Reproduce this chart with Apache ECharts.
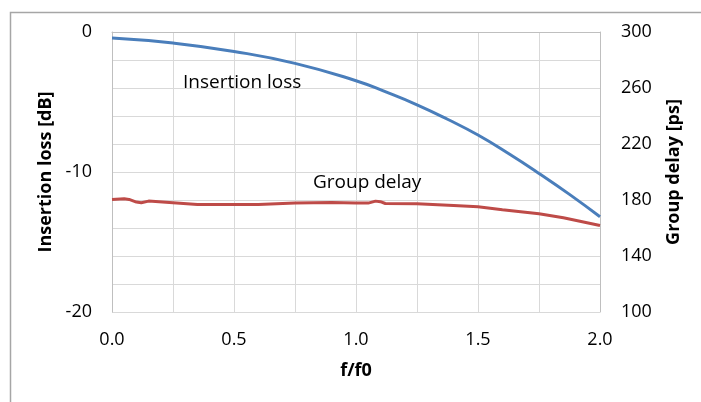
<!DOCTYPE html>
<html>
<head>
<meta charset="utf-8">
<script src="https://cdn.jsdelivr.net/npm/echarts@6/dist/echarts.min.js"></script>
<style>html,body{margin:0;padding:0;background:#fff;}#c{width:701px;height:402px;}</style>
</head>
<body>
<div id="c"></div>
<script>
const xIL = [0, 0.25, 0.5, 0.75, 1.0, 1.125, 1.25, 1.375, 1.5, 1.625, 1.75, 1.875, 2.0];
const insertionLoss = [-0.43, -0.79, -1.39, -2.24, -3.48, -4.3, -5.2, -6.23, -7.36, -8.68, -10.1, -11.6, -13.2];
const xGD = [0, 0.05, 0.07, 0.1, 0.12, 0.15, 0.25, 0.35, 0.5, 0.6, 0.75, 0.9, 1.0, 1.05, 1.08, 1.1, 1.12, 1.25, 1.4, 1.5, 1.6, 1.75, 1.85, 2.0];
const groupDelay = [180.4, 180.9, 180.4, 178.5, 178.0, 179.2, 178.0, 176.8, 176.8, 176.8, 177.8, 178.3, 177.8, 177.8, 179.2, 178.8, 177.5, 177.3, 176.1, 175.2, 173.0, 170.2, 167.3, 161.8];
const xTicks = [0, 0.5, 1.0, 1.5, 2.0];
const leftTicks = [0, -10, -20];
const rightTicks = [300, 260, 220, 180, 140, 100];

const FONT = '"Open Sans", "DejaVu Sans", sans-serif';
const near = (v, arr) => arr.some(t => Math.abs(t - v) < 1e-6);

const chart = echarts.init(document.getElementById('c'));
chart.setOption({
  animation: false,
  backgroundColor: '#fff',
  grid: { left: 112, right: 101, top: 32, bottom: 90, show: false },
  xAxis: {
    type: 'value', min: 0, max: 2, interval: 0.25,
    name: 'f/f0', nameLocation: 'middle', nameGap: 50,
    nameTextStyle: { fontFamily: FONT, fontSize: 18, fontWeight: 'bold', color: '#000' },
    axisLine: { show: true, lineStyle: { color: '#bfbfbf', width: 1 } },
    axisTick: { show: false },
    axisLabel: { fontFamily: FONT, fontSize: 18, color: '#000', margin: 19,
      formatter: v => near(v, xTicks) ? v.toFixed(1) : '' },
    splitLine: { show: true, lineStyle: { color: '#d9d9d9', width: 1 } }
  },
  yAxis: [{
    type: 'value', min: -20, max: 0, interval: 2, position: 'left',
    name: 'Insertion loss [dB]', nameLocation: 'middle', nameGap: 57, nameRotate: 90,
    nameTextStyle: { fontFamily: FONT, fontSize: 18, fontWeight: 'bold', color: '#000' },
    axisLine: { show: true, lineStyle: { color: '#bfbfbf', width: 1 } },
    axisTick: { show: false },
    axisLabel: { fontFamily: FONT, fontSize: 18, color: '#000', margin: 20,
      formatter: v => near(v, leftTicks) ? String(v) : '' },
    splitLine: { show: true, lineStyle: { color: '#d9d9d9', width: 1 } }
  }, {
    type: 'value', min: 100, max: 300, interval: 40, position: 'right',
    name: 'Group delay [ps]', nameLocation: 'middle', nameGap: 65, nameRotate: 90,
    nameTextStyle: { fontFamily: FONT, fontSize: 18, fontWeight: 'bold', color: '#000' },
    axisLine: { show: true, lineStyle: { color: '#bfbfbf', width: 1 } },
    axisTick: { show: false },
    axisLabel: { fontFamily: FONT, fontSize: 18, color: '#000', margin: 21,
      formatter: v => near(v, rightTicks) ? String(v) : '' },
    splitLine: { show: false }
  }],
  series: [{
    name: 'Insertion loss', type: 'line', yAxisIndex: 0, smooth: 0.5, showSymbol: false,
    data: xIL.map((x, i) => [x, insertionLoss[i]]),
    lineStyle: { color: '#4a7ebb', width: 3 }, itemStyle: { color: '#4a7ebb' }
  }, {
    name: 'Group delay', type: 'line', yAxisIndex: 1, showSymbol: false,
    data: xGD.map((x, i) => [x, groupDelay[i]]),
    lineStyle: { color: '#be4b48', width: 3 }, itemStyle: { color: '#be4b48' }
  }],
  graphic: [
    { type: 'rect', left: 8, top: 10, shape: { x: 0, y: 0, width: 720, height: 420 },
      style: { fill: null, stroke: '#a6a6a6', lineWidth: 1.5 }, silent: true, z: 0 },
    { type: 'text', x: 183, y: 83, z: 100, style: { text: 'Insertion loss', font: '19px ' + FONT, fill: '#000', verticalAlign: 'middle' } },
    { type: 'text', x: 313, y: 183, z: 100, style: { text: 'Group delay', font: '19px ' + FONT, fill: '#000', verticalAlign: 'middle' } }
  ]
});
</script>
</body>
</html>
